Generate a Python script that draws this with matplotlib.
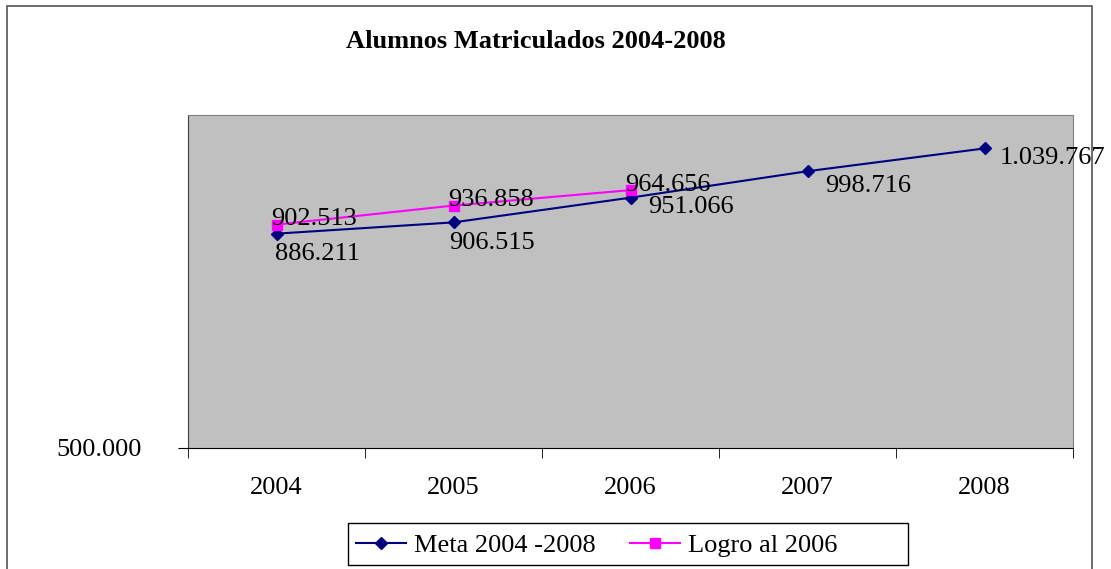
import matplotlib.pyplot as plt
from matplotlib.patches import Rectangle

years = ['2004', '2005', '2006', '2007', '2008']
meta = [886211, 906515, 951066, 998716, 1039767]
logro = [902513, 936858, 964656]

meta_lbl = ['886.211', '906.515', '951.066', '998.716', '1.039.767']
logro_lbl = ['902.513', '936.858', '964.656']

plt.rcParams['font.family'] = ['Liberation Serif', 'DejaVu Serif']

fig = plt.figure(figsize=(11.11, 5.69), dpi=100)
# outer chart border
fig.patches.append(Rectangle((7/1111, -0.05), (1092-7)/1111, 1 - 6/569 + 0.05,
                             transform=fig.transFigure, fill=False,
                             edgecolor='#555555', linewidth=1.2))
# legend box
fig.patches.append(Rectangle((348/1111, 1-565/569), (908-348)/1111, (565-523)/569,
                             transform=fig.transFigure, fill=False,
                             edgecolor='black', linewidth=1.0))

ax = fig.add_axes([188/1111, 1-448/569, (1073-188)/1111, (448-115)/569])
ax.set_facecolor('#C0C0C0')
x = list(range(len(years)))

ax.plot(x, meta, color='#000080', linewidth=1.5, marker='D', markersize=6,
        label='Meta 2004 -2008', zorder=3)
ax.plot(x[:len(logro)], logro, color='#FF00FF', linewidth=1.5, marker='s',
        markersize=7, label='Logro al 2006', zorder=3)

# offsets of labels in points
meta_off = [(-1, -15), (-3, -15), (13, -7), (13, -11), (11, -7)]
for i, v in enumerate(meta):
    ax.annotate(meta_lbl[i], (x[i], v), xytext=meta_off[i], textcoords='offset points',
                ha='left', va='center', fontsize=19, zorder=4)
for i, v in enumerate(logro):
    ax.annotate(logro_lbl[i], (x[i], v), xytext=(-4, 4), textcoords='offset points',
                ha='left', va='center', fontsize=19, zorder=4)

ax.set_xlim(-0.5, 4.5)
ax.set_ylim(500000, 1100000)
ax.set_yticks([500000])
ax.set_yticklabels(['500.000'], fontsize=19)
ax.set_xticks(x)
ax.set_xticklabels(years, fontsize=19)
ax.tick_params(axis='x', which='major', length=0, pad=21)
ax.set_xticks([i - 0.5 for i in range(len(years) + 1)], minor=True)
ax.tick_params(axis='x', which='minor', length=7, direction='out')
ax.tick_params(axis='y', length=7, direction='out', pad=26)
for s in ['top', 'right', 'left']:
    ax.spines[s].set_color('#808080')
ax.spines['left'].set_color('#404040')
ax.spines['bottom'].set_color('black')

fig.text(536/1111, 1-42/569, 'Alumnos Matriculados 2004-2008', ha='center', va='center',
         fontsize=19, fontweight='bold')

leg = fig.legend(loc='upper left', bbox_to_anchor=(348/1111, 1-526/569),
                 ncol=2, fontsize=19, frameon=False,
                 handlelength=1.9, borderpad=0.3, handletextpad=0.3,
                 columnspacing=1.3, borderaxespad=0)

fig.savefig('out.png', dpi=100)
